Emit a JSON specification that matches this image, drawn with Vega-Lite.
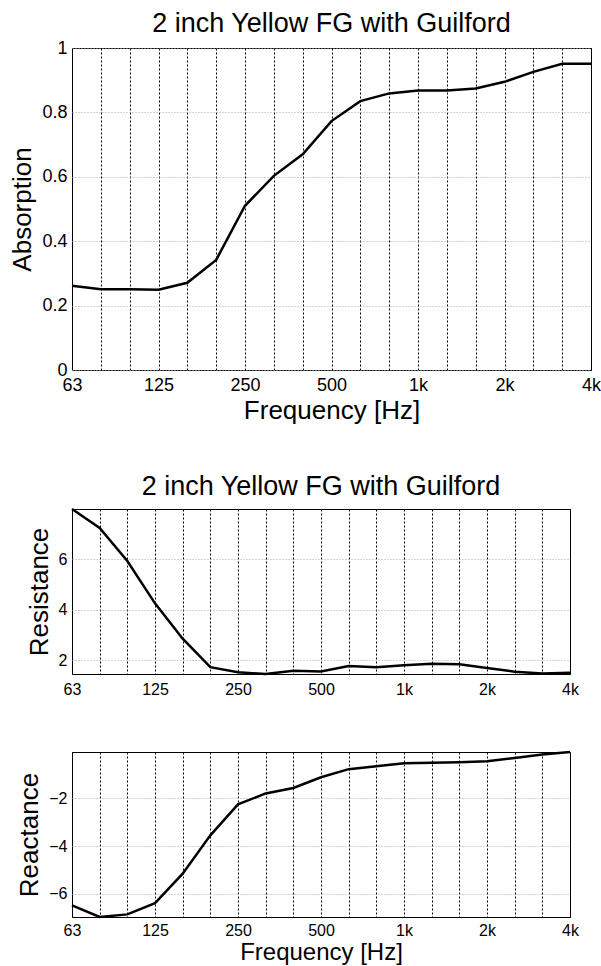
{
  "$schema": "https://vega.github.io/schema/vega-lite/v6.json",
  "background": "white",
  "padding": {"left": 9, "top": 9, "right": 5, "bottom": 5},
  "spacing": 48,
  "datasets": {
    "bands": [
      {"freq": 63, "absorption": 0.262, "resistance": 7.99, "reactance": -6.49},
      {"freq": 80, "absorption": 0.251, "resistance": 7.24, "reactance": -6.98},
      {"freq": 100, "absorption": 0.251, "resistance": 5.93, "reactance": -6.87},
      {"freq": 125, "absorption": 0.249, "resistance": 4.25, "reactance": -6.40},
      {"freq": 160, "absorption": 0.271, "resistance": 2.85, "reactance": -5.16},
      {"freq": 200, "absorption": 0.342, "resistance": 1.72, "reactance": -3.55},
      {"freq": 250, "absorption": 0.510, "resistance": 1.52, "reactance": -2.25},
      {"freq": 315, "absorption": 0.603, "resistance": 1.45, "reactance": -1.79},
      {"freq": 400, "absorption": 0.670, "resistance": 1.58, "reactance": -1.56},
      {"freq": 500, "absorption": 0.773, "resistance": 1.55, "reactance": -1.11},
      {"freq": 630, "absorption": 0.835, "resistance": 1.77, "reactance": -0.77},
      {"freq": 800, "absorption": 0.859, "resistance": 1.72, "reactance": -0.65},
      {"freq": 1000, "absorption": 0.868, "resistance": 1.80, "reactance": -0.52},
      {"freq": 1250, "absorption": 0.868, "resistance": 1.86, "reactance": -0.50},
      {"freq": 1600, "absorption": 0.874, "resistance": 1.84, "reactance": -0.48},
      {"freq": 2000, "absorption": 0.895, "resistance": 1.69, "reactance": -0.44},
      {"freq": 2500, "absorption": 0.926, "resistance": 1.54, "reactance": -0.30},
      {"freq": 3150, "absorption": 0.951, "resistance": 1.47, "reactance": -0.155},
      {"freq": 4000, "absorption": 0.951, "resistance": 1.50, "reactance": -0.05}
    ]
  },
  "config": {
    "font": "Liberation Sans",
    "view": {"stroke": "black", "strokeWidth": 1},
    "axis": {
      "domain": false,
      "ticks": false,
      "tickSize": 0,
      "labelColor": "black",
      "titleColor": "black",
      "titleFontWeight": "normal",
      "labelFont": "Liberation Sans",
      "titleFont": "Liberation Sans",
      "labelFlush": false,
      "labelOverlap": false,
      "grid": true,
      "gridOpacity": 1
    },
    "title": {
      "font": "Liberation Sans",
      "fontSize": 27,
      "fontWeight": "normal",
      "color": "black",
      "baseline": "alphabetic",
      "anchor": "middle",
      "frame": "group"
    }
  },
  "vconcat": [
    {
      "width": 519,
      "height": 322,
      "title": {"text": "2 inch Yellow FG with Guilford", "offset": 1},
      "data": {"name": "bands"},
      "mark": {"type": "line", "color": "black", "strokeWidth": 2.5},
      "encoding": {
        "x": {
          "field": "freq",
          "type": "ordinal",
          "scale": {"type": "point", "padding": 0},
          "axis": {
            "title": "Frequency [Hz]",
            "titleFontSize": 26,
            "titlePadding": 3,
            "labelFontSize": 18,
            "labelPadding": 6,
            "labelAngle": 0,
            "gridColor": "black",
            "gridDash": [2, 2],
            "labelExpr": "datum.value == 63 ? '63' : datum.value == 125 ? '125' : datum.value == 250 ? '250' : datum.value == 500 ? '500' : datum.value == 1000 ? '1k' : datum.value == 2000 ? '2k' : datum.value == 4000 ? '4k' : ''"
          }
        },
        "y": {
          "field": "absorption",
          "type": "quantitative",
          "scale": {"domain": [0, 1], "nice": false, "zero": false},
          "axis": {
            "title": "Absorption",
            "titleFontSize": 26,
            "titlePadding": 6,
            "labelFontSize": 18,
            "labelPadding": 5,
            "values": [0, 0.2, 0.4, 0.6, 0.8, 1],
            "format": "~g",
            "gridColor": "#a8a8a8",
            "gridDash": [1, 2]
          }
        }
      }
    },
    {
      "width": 498,
      "height": 165,
      "title": {"text": "2 inch Yellow FG with Guilford", "offset": 3},
      "data": {"name": "bands"},
      "mark": {"type": "line", "color": "black", "strokeWidth": 2.5},
      "encoding": {
        "x": {
          "field": "freq",
          "type": "ordinal",
          "scale": {"type": "point", "padding": 0},
          "axis": {
            "title": null,
            "labelFontSize": 16,
            "labelPadding": 7,
            "labelAngle": 0,
            "gridColor": "black",
            "gridDash": [2, 2],
            "labelExpr": "datum.value == 63 ? '63' : datum.value == 125 ? '125' : datum.value == 250 ? '250' : datum.value == 500 ? '500' : datum.value == 1000 ? '1k' : datum.value == 2000 ? '2k' : datum.value == 4000 ? '4k' : ''"
          }
        },
        "y": {
          "field": "resistance",
          "type": "quantitative",
          "scale": {"domain": [1.45, 7.99], "nice": false, "zero": false},
          "axis": {
            "title": "Resistance",
            "titleFontSize": 26,
            "titlePadding": 6,
            "labelFontSize": 16,
            "labelPadding": 5,
            "values": [2, 4, 6],
            "format": "~g",
            "gridColor": "#a8a8a8",
            "gridDash": [1, 2]
          }
        }
      }
    },
    {
      "width": 498,
      "height": 165,
      "data": {"name": "bands"},
      "mark": {"type": "line", "color": "black", "strokeWidth": 2.5},
      "encoding": {
        "x": {
          "field": "freq",
          "type": "ordinal",
          "scale": {"type": "point", "padding": 0},
          "axis": {
            "title": "Frequency [Hz]",
            "titleFontSize": 24,
            "titlePadding": 2,
            "labelFontSize": 16,
            "labelPadding": 5,
            "labelAngle": 0,
            "gridColor": "black",
            "gridDash": [2, 2],
            "labelExpr": "datum.value == 63 ? '63' : datum.value == 125 ? '125' : datum.value == 250 ? '250' : datum.value == 500 ? '500' : datum.value == 1000 ? '1k' : datum.value == 2000 ? '2k' : datum.value == 4000 ? '4k' : ''"
          }
        },
        "y": {
          "field": "reactance",
          "type": "quantitative",
          "scale": {"domain": [-6.98, -0.05], "nice": false, "zero": false},
          "axis": {
            "title": "Reactance",
            "titleFontSize": 26,
            "titlePadding": 6,
            "labelFontSize": 16,
            "labelPadding": 5,
            "values": [-6, -4, -2],
            "format": "~g",
            "gridColor": "#a8a8a8",
            "gridDash": [1, 2]
          }
        }
      }
    }
  ]
}
